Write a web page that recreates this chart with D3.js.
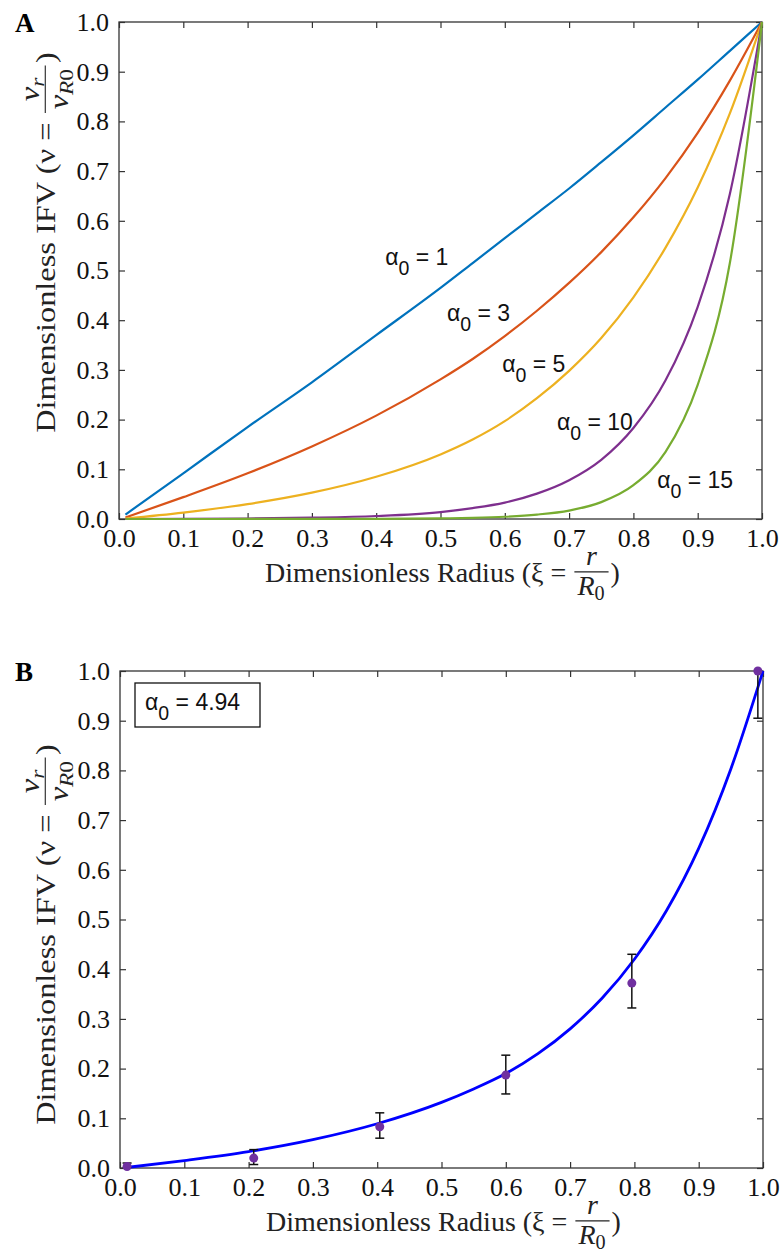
<!DOCTYPE html>
<html>
<head>
<meta charset="utf-8">
<script src="https://cdn.jsdelivr.net/npm/d3@7"></script>
<style>
  body { margin: 0; background: #fff; }
  text { font-family: "Liberation Serif", "Times New Roman", serif; }
  .sans { font-family: "Liberation Sans", Arial, sans-serif; }
</style>
</head>
<body>
<div id="chart"></div>
<script>
// Panel A: dimensionless IFV curves for several alpha_0
const xiA   = [0.01, 0.1, 0.2, 0.3, 0.4, 0.5, 0.55, 0.6, 0.65, 0.7, 0.75, 0.8, 0.85, 0.9, 0.95, 1.0];
const nuA1  = [0.009, 0.092, 0.185, 0.275, 0.37, 0.465, 0.515, 0.565, 0.615, 0.665, 0.718, 0.772, 0.828, 0.884, 0.942, 1.0];
const nuA3  = [0.003, 0.044, 0.092, 0.146, 0.208, 0.281, 0.322, 0.368, 0.419, 0.475, 0.537, 0.607, 0.686, 0.777, 0.882, 1.0];
const nuA5  = [0.001, 0.013, 0.03, 0.053, 0.085, 0.13, 0.16, 0.197, 0.243, 0.298, 0.364, 0.446, 0.546, 0.667, 0.816, 1.0];
const nuA10 = [0, 0.0004, 0.001, 0.0026, 0.006, 0.014, 0.022, 0.033, 0.051, 0.078, 0.119, 0.183, 0.279, 0.427, 0.654, 1.0];
const nuA15 = [0, 0, 0.0001, 0.0001, 0.0003, 0.0012, 0.0023, 0.0045, 0.0089, 0.017, 0.034, 0.068, 0.135, 0.27, 0.515, 1.0];
const alphaLabels = ["1", "3", "5", "10", "15"];
const labelXi = [0.414, 0.51, 0.596, 0.681, 0.837];
const labelNu = [0.511, 0.398, 0.296, 0.179, 0.062];
const curveColors = ["#0072BD", "#D95319", "#EDB120", "#7E2F8E", "#77AC30"];

// Panel B: fit and measured points
const xiFit = [0.01, 0.1, 0.2, 0.3, 0.4, 0.5, 0.55, 0.6, 0.65, 0.7, 0.75, 0.8, 0.85, 0.9, 0.95, 1.0];
const nuFit = [0.001, 0.015, 0.033, 0.057, 0.089, 0.132, 0.159, 0.19, 0.23, 0.28, 0.342, 0.42, 0.518, 0.643, 0.803, 1.0];
const ptXi  = [0.011, 0.208, 0.404, 0.60, 0.796, 0.992];
const ptNu  = [0.003, 0.02, 0.083, 0.187, 0.372, 1.0];
const ptLo  = [0.0, 0.007, 0.06, 0.149, 0.322, 0.905];
const ptHi  = [0.01, 0.037, 0.111, 0.227, 0.43, 1.095];
const fitAlpha = "4.94";

const ticks = d3.range(0, 11).map(d => d / 10);

const svg = d3.select("#chart").append("svg")
  .attr("width", 780).attr("height", 1255);

function panel(box, letter, yLabelShift) {
  const x = d3.scaleLinear().domain([0, 1]).range([box.left, box.right]);
  const y = d3.scaleLinear().domain([0, 1]).range([box.bottom, box.top]);
  const g = svg.append("g");
  const fmt = d3.format(".1f");

  g.append("g").attr("transform", `translate(0,${box.bottom})`)
    .call(d3.axisBottom(x).tickValues(ticks).tickFormat(fmt).tickSizeInner(-6).tickSizeOuter(0).tickPadding(10));
  g.append("g").attr("transform", `translate(${box.left},0)`)
    .call(d3.axisLeft(y).tickValues(ticks).tickFormat(fmt).tickSizeInner(-6).tickSizeOuter(0).tickPadding(10));
  g.append("g").attr("transform", `translate(0,${box.top})`)
    .call(d3.axisTop(x).tickValues(ticks).tickFormat("").tickSizeInner(-6).tickSizeOuter(0));
  g.append("g").attr("transform", `translate(${box.right},0)`)
    .call(d3.axisRight(y).tickValues(ticks).tickFormat("").tickSizeInner(-6).tickSizeOuter(0));

  g.selectAll(".domain").remove();
  g.selectAll("g").attr("font-family", "Liberation Serif, Times New Roman, serif").attr("font-size", 26);
  g.selectAll(".tick line").attr("stroke", "#333").attr("stroke-width", 1.2);
  g.selectAll(".tick text").attr("fill", "#111");

  g.append("rect")
    .attr("x", box.left).attr("y", box.top)
    .attr("width", box.right - box.left).attr("height", box.bottom - box.top)
    .attr("fill", "none").attr("stroke", "#333").attr("stroke-width", 1.3);

  svg.append("text").attr("x", 15).attr("y", box.top + 10)
    .style("font-size", "27px").style("font-weight", "bold").text(letter);

  mathLabel(svg.append("g").attr("transform", `translate(${(box.left + box.right) / 2 + 2},${box.bottom + 63})`),
    "Dimensionless Radius (\u03BE = ", [{t: "r", i: true}], [{t: "R", i: true}, {t: "0", sub: true}], 28);

  mathLabel(svg.append("g").attr("transform",
      `translate(55,${(box.top + box.bottom) / 2 + yLabelShift}) rotate(-90) scale(1.2,1)`),
    "Dimensionless IFV (\u03BD = ", [{t: "v", i: true}, {t: "r", i: true, sub: true}],
    [{t: "v", i: true}, {t: "R", i: true, sub: true}, {t: "0", sub: true}], 27);

  return {x, y, g};
}

function rich(g, parts, fs) {
  const t = g.append("text").style("font-size", fs + "px");
  let shift = 0;
  parts.forEach(p => {
    const ts = t.append("tspan").text(p.t);
    if (p.i) ts.style("font-style", "italic");
    if (p.sub) {
      ts.style("font-size", (fs * 0.72) + "px");
      if (!shift) { ts.attr("dy", fs * 0.18); shift = fs * 0.18; }
    } else if (shift) { ts.attr("dy", -shift); shift = 0; }
  });
  return t;
}

function mathLabel(g, prefix, num, den, fs) {
  const inner = g.append("g");
  const t1 = inner.append("text").style("font-size", fs + "px").text(prefix);
  const w1 = t1.node().getComputedTextLength();
  const tn = rich(inner, num, fs), td = rich(inner, den, fs);
  const wn = tn.node().getBBox().width, wd = td.node().getBBox().width;
  const fw = Math.max(wn, wd) + 6;
  const lineY = -fs * 0.36;
  const fx = w1 + 8;
  inner.append("line").attr("x1", fx).attr("x2", fx + fw).attr("y1", lineY).attr("y2", lineY)
    .attr("stroke", "#222").attr("stroke-width", 1.1);
  tn.attr("x", fx + (fw - wn) / 2).attr("y", lineY - fs * 0.24);
  td.attr("x", fx + (fw - wd) / 2).attr("y", lineY + fs * 0.84);
  const tc = inner.append("text").style("font-size", fs + "px").attr("x", fx + fw + 2).text(")");
  const total = fx + fw + 2 + tc.node().getComputedTextLength();
  inner.attr("transform", `translate(${-total / 2},0)`);
  inner.selectAll("text").attr("fill", "#222");
}

function alphaText(parent, x, y, value, fs) {
  const t = parent.append("text").attr("class", "sans").attr("x", x).attr("y", y)
    .style("font-size", fs + "px").attr("fill", "#111");
  t.append("tspan").text("\u03B1");
  t.append("tspan").text("0").attr("dy", fs * 0.42).style("font-size", (fs * 0.85) + "px");
  t.append("tspan").text(" = " + value).attr("dy", -fs * 0.42);
  return t;
}

// ----- Panel A -----
const A = panel({left: 119, right: 762, top: 22, bottom: 519}, "A", -28);
const lineA = d3.line().x(d => A.x(d[0])).y(d => A.y(d[1])).curve(d3.curveMonotoneX);
[nuA1, nuA3, nuA5, nuA10, nuA15].forEach((vals, i) => {
  A.g.append("path")
    .datum(xiA.map((xi, j) => [xi, vals[j]]))
    .attr("d", lineA)
    .attr("fill", "none")
    .attr("stroke", curveColors[i])
    .attr("stroke-width", 2.2);
});
alphaLabels.forEach((lab, i) => alphaText(A.g, A.x(labelXi[i]), A.y(labelNu[i]), lab, 23));

// ----- Panel B -----
const B = panel({left: 120, right: 763, top: 671, bottom: 1168}, "B", 15);
svg.append("clipPath").attr("id", "clipB").append("rect")
  .attr("x", 100).attr("y", 671).attr("width", 680).attr("height", 497);

const lineB = d3.line().x(d => B.x(d[0])).y(d => B.y(d[1])).curve(d3.curveMonotoneX);
B.g.append("path")
  .datum(xiFit.map((xi, j) => [xi, nuFit[j]]))
  .attr("d", lineB)
  .attr("fill", "none")
  .attr("stroke", "#0000FF")
  .attr("stroke-width", 2.8);

const errs = B.g.append("g").attr("clip-path", "url(#clipB)")
  .attr("stroke", "#111").attr("stroke-width", 1.5);
ptXi.forEach((xi, i) => {
  const cx = B.x(xi);
  errs.append("line").attr("x1", cx).attr("x2", cx).attr("y1", B.y(ptLo[i])).attr("y2", B.y(ptHi[i]));
  [ptLo[i], ptHi[i]].forEach(v => {
    errs.append("line").attr("x1", cx - 4.5).attr("x2", cx + 4.5).attr("y1", B.y(v)).attr("y2", B.y(v));
  });
});
B.g.selectAll(".pt").data(ptXi).enter().append("circle")
  .attr("cx", d => B.x(d))
  .attr("cy", (d, i) => B.y(ptNu[i]))
  .attr("r", 4.5)
  .attr("fill", "#7030A0");

// legend box with fitted alpha
B.g.append("rect").attr("x", 135).attr("y", 683).attr("width", 125).attr("height", 44)
  .attr("fill", "#fff").attr("stroke", "#111").attr("stroke-width", 1.3);
alphaText(B.g, 145, 710, fitAlpha, 23);
</script>
</body>
</html>
